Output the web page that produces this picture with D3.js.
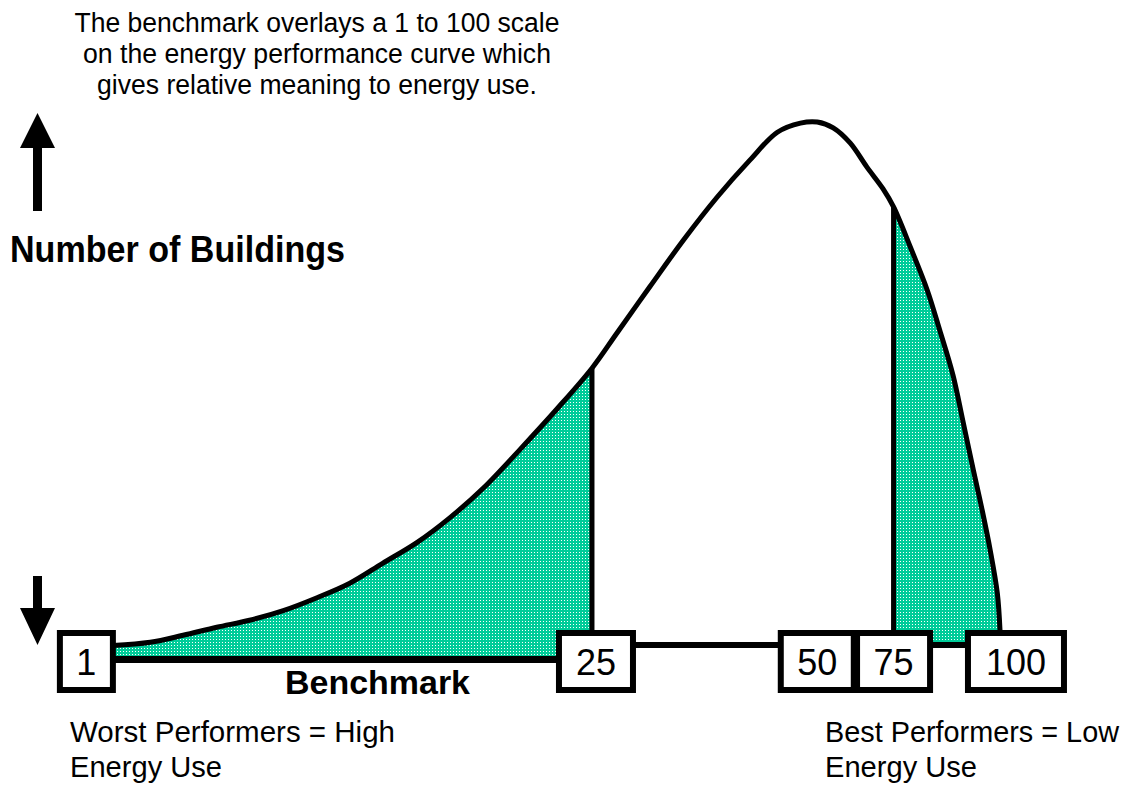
<!DOCTYPE html>
<html>
<head>
<meta charset="utf-8">
<script src="https://cdn.jsdelivr.net/npm/d3@7"></script>
<style>
  body { margin: 0; background: #fff; }
  text { font-family: "Liberation Sans Narrow", "Liberation Sans", Arial, sans-serif; fill: #000; }
</style>
</head>
<body>
<div id="chart-area"></div>
<script>
// energy performance curve
// x = energy use index (0..100), y = number of buildings (0..100, peak = 100)
const curveUse = [0, 4.2, 7.9, 11.7, 15.4, 19.2, 23.0, 26.7, 30.4, 34.3, 38.0, 41.7, 45.9, 50.1,
    54.0, 56.8, 60.5, 64.3, 68.1, 71.8, 74.9, 77.5, 79.4, 81.2, 83.1, 85.0, 86.8, 88.0,
    89.9, 91.8, 93.2, 94.7, 95.8, 97.0, 98.0, 98.9, 99.7, 100];
const curveCount = [2.6, 3.2, 4.5, 6.0, 7.3, 9.1, 11.5, 14.2, 17.9, 21.8, 26.4, 31.8, 39.1, 46.7,
    54.2, 60.7, 69.3, 78.0, 86.0, 92.9, 98.1, 99.8, 100, 98.9, 96.1, 91.6, 87.6, 84.2,
    76.7, 68.7, 61.3, 52.9, 44.5, 35.2, 27.7, 20.3, 12.3, 5.4];

// benchmark scores and where they sit on the energy use axis
const benchmarkScores = ["1", "25", "50", "75", "100"];
const benchmarkUse = [-3.0, 54.45, 79.4, 88.0, 101.8];
const boxWidths = [53, 74, 73, 73, 96];

// shaded tails: worst (up to score 25) and best (from score 75)
const worstCut = 54.0;
const bestCut = 88.0;
const rightBase = 2.7;

const titleLines = ["The benchmark overlays a 1 to 100 scale",
    "on the energy performance curve which",
    "gives relative meaning to energy use."];
const worstLines = ["Worst Performers = High", "Energy Use"];
const bestLines = ["Best Performers = Low", "Energy Use"];

const canvasWidth = 1133;
const canvasHeight = 785;
const boxTop = 633, boxHeight = 57;

var svg = d3.select("#chart-area")
    .append("svg")
        .attr("width", canvasWidth)
        .attr("height", canvasHeight);

// scales
var x = d3.scaleLinear().domain([0, 100]).range([113, 1000]);
var y = d3.scaleLinear().domain([0, 100]).range([659.5, 122]);

var curveData = curveUse.map((u, i) => ({use: u, count: curveCount[i]}));

function countAt(u) {
    var i = d3.bisector(d => d.use).left(curveData, u);
    if (i <= 0) return curveData[0].count;
    var a = curveData[i - 1], b = curveData[i];
    return a.count + (b.count - a.count) * (u - a.use) / (b.use - a.use);
}

// dotted teal fill
var defs = svg.append("defs");
var pat = defs.append("pattern")
    .attr("id", "teal")
    .attr("patternUnits", "userSpaceOnUse")
    .attr("width", 3).attr("height", 3);
pat.append("rect").attr("width", 3).attr("height", 3).attr("fill", "#00cc99");
pat.append("rect").attr("width", 1).attr("height", 1).attr("fill", "#ffffff");

defs.append("clipPath").attr("id", "clip-worst")
    .append("rect")
    .attr("x", x(0) - 5).attr("y", 0)
    .attr("width", x(worstCut) - x(0) + 5).attr("height", canvasHeight);
defs.append("clipPath").attr("id", "clip-best")
    .append("rect")
    .attr("x", x(bestCut)).attr("y", 0)
    .attr("width", x(100) - x(bestCut) + 10).attr("height", canvasHeight);

var smooth = d3.curveCatmullRom.alpha(0.5);

var areaWorst = d3.area()
    .x(d => x(d.use))
    .y0(y(0))
    .y1(d => y(d.count))
    .curve(smooth);
var areaBest = d3.area()
    .x(d => x(d.use))
    .y0(y(rightBase))
    .y1(d => y(d.count))
    .curve(smooth);

svg.append("path")
    .datum(curveData)
    .attr("clip-path", "url(#clip-worst)")
    .attr("fill", "url(#teal)")
    .attr("d", areaWorst);
svg.append("path")
    .datum(curveData)
    .attr("clip-path", "url(#clip-best)")
    .attr("fill", "url(#teal)")
    .attr("d", areaBest);

// vertical cut lines
[worstCut, bestCut].forEach(c => {
    svg.append("line")
        .attr("x1", x(c)).attr("x2", x(c))
        .attr("y1", y(countAt(c))).attr("y2", boxTop)
        .attr("stroke", "#000")
        .attr("stroke-width", 5);
});

// the curve
var line = d3.line()
    .x(d => x(d.use))
    .y(d => y(d.count))
    .curve(smooth);
svg.append("path")
    .datum(curveData)
    .attr("fill", "none")
    .attr("stroke", "#000")
    .attr("stroke-width", 5)
    .attr("stroke-linejoin", "round")
    .attr("d", line);

// benchmark base lines
svg.append("line")
    .attr("x1", x(benchmarkUse[0])).attr("x2", x(benchmarkUse[1]))
    .attr("y1", y(0)).attr("y2", y(0))
    .attr("stroke", "#000").attr("stroke-width", 7);
svg.append("line")
    .attr("x1", x(benchmarkUse[1])).attr("x2", x(benchmarkUse[4]))
    .attr("y1", y(rightBase)).attr("y2", y(rightBase))
    .attr("stroke", "#000").attr("stroke-width", 6);

// benchmark boxes
var boxes = svg.selectAll(".bench")
    .data(benchmarkScores)
    .enter().append("g")
        .attr("class", "bench")
        .attr("transform", (d, i) => "translate(" + x(benchmarkUse[i]) + ",0)");
boxes.append("rect")
    .attr("x", (d, i) => -boxWidths[i] / 2)
    .attr("y", boxTop)
    .attr("width", (d, i) => boxWidths[i])
    .attr("height", boxHeight)
    .attr("fill", "#fff")
    .attr("stroke", "#000")
    .attr("stroke-width", 6);
boxes.append("text")
    .attr("x", 0)
    .attr("y", 675)
    .attr("text-anchor", "middle")
    .attr("font-size", "36px")
    .style("font-family", "'Liberation Sans', Arial, sans-serif")
    .text(d => d);

// arrows
svg.append("path")
    .attr("d", "M37.5,113 L55,148 L42,148 L42,211 L33,211 L33,148 L20,148 Z")
    .attr("fill", "#000");
svg.append("path")
    .attr("d", "M33,576 L42,576 L42,608 L55,608 L37.5,645 L20,608 L33,608 Z")
    .attr("fill", "#000");

// title
var titleWidths = [485, 468, 440];
titleLines.forEach((t, i) => {
    svg.append("text")
        .attr("x", 317)
        .attr("y", 32 + i * 31)
        .attr("text-anchor", "middle")
        .attr("font-size", "27px")
        .attr("textLength", titleWidths[i])
        .attr("lengthAdjust", "spacingAndGlyphs")
        .text(t);
});

// Y label
svg.append("text")
    .attr("x", 10)
    .attr("y", 262)
    .attr("font-size", "36px")
    .attr("font-weight", "bold")
    .attr("textLength", 335)
    .attr("lengthAdjust", "spacingAndGlyphs")
    .text("Number of Buildings");

// X label
svg.append("text")
    .attr("x", 285)
    .attr("y", 694)
    .attr("font-size", "33px")
    .attr("font-weight", "bold")
    .attr("textLength", 185)
    .attr("lengthAdjust", "spacingAndGlyphs")
    .text("Benchmark");

// bottom notes
var worstWidths = [325, 152];
worstLines.forEach((t, i) => {
    svg.append("text")
        .attr("x", 70)
        .attr("y", 742 + i * 35)
        .attr("font-size", "29px")
        .attr("textLength", worstWidths[i])
        .attr("lengthAdjust", "spacingAndGlyphs")
        .text(t);
});
var bestWidths = [294, 152];
bestLines.forEach((t, i) => {
    svg.append("text")
        .attr("x", 825)
        .attr("y", 742 + i * 35)
        .attr("font-size", "29px")
        .attr("textLength", bestWidths[i])
        .attr("lengthAdjust", "spacingAndGlyphs")
        .text(t);
});
</script>
</body>
</html>
